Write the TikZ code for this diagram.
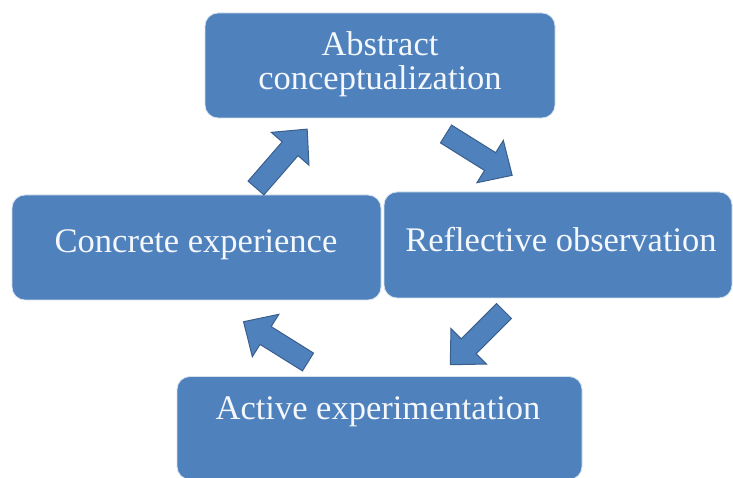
\documentclass[tikz,border=0pt]{standalone}
\usepackage{fontspec}
\setmainfont{Liberation Serif}
\definecolor{boxblue}{HTML}{4F81BD}
\definecolor{arrowedge}{HTML}{3A5F8C}
\definecolor{boxedge}{HTML}{D6E1EF}
\definecolor{txt}{HTML}{F4F7FB}
\tikzset{
  x=1pt,y=1pt,
  stagebox/.style={rectangle, rounded corners=13pt, fill=boxblue, draw=boxedge, line width=0.8pt, inner sep=0pt},
  stagetext/.style={anchor=base, text=txt, font=\fontsize{34.5}{34}\selectfont, inner sep=0pt},
  arrowshape/.style={fill=boxblue, draw=arrowedge, line width=1pt, line join=miter},
  pics/blockarrow/.style={code={
    \draw[arrowshape] (0,-10.5) -- (#1-26,-10.5) -- (#1-26,-25) -- (#1,0) -- (#1-26,25) -- (#1-26,10.5) -- (0,10.5) -- cycle;
  }}
}
\begin{document}
\begin{tikzpicture}
\useasboundingbox (0,0) rectangle (733,478);
% boxes
\node[stagebox, minimum width=350, minimum height=105] (abs) at (380,412.5) {};
\node[stagebox, minimum width=369, minimum height=105] (con) at (196.5,230.5) {};
\node[stagebox, minimum width=348, minimum height=106] (ref) at (558,233) {};
\node[stagebox, minimum width=405, minimum height=103] (act) at (379.5,50) {};
% texts
\node[stagetext, anchor=center, align=center] (absT) at (380,414) {Abstract\\conceptualization};
\node[stagetext] (conT) at (196,225) {Concrete experience};
\node[stagetext] (refT) at (561,226) {Reflective observation};
\node[stagetext] (actT) at (378,58) {Active experimentation};
% block arrows
\pic (a1) at (256,290) [rotate=49] {blockarrow=78};
\pic (a2) at (446,344) [rotate=-32] {blockarrow=78};
\pic (a3) at (504,167) [rotate=-135] {blockarrow=76};
\pic (a4) at (308,116) [rotate=148] {blockarrow=76};
\end{tikzpicture}
\end{document}
